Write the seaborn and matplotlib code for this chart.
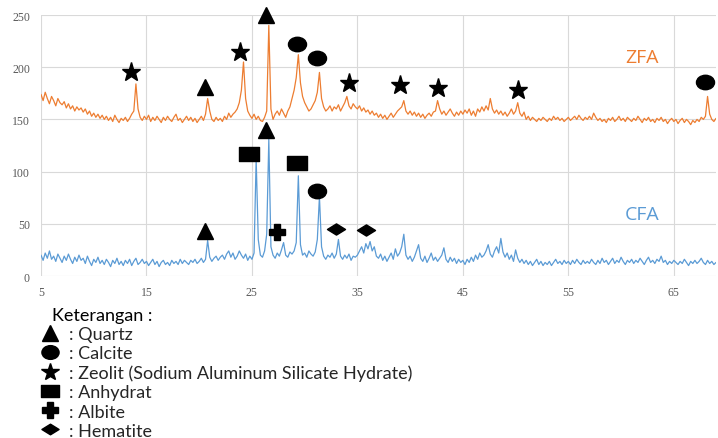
import numpy as np
import pandas as pd
import matplotlib
matplotlib.use("Agg")
import matplotlib.pyplot as plt
from matplotlib.path import Path
from matplotlib.transforms import Affine2D
from matplotlib.lines import Line2D
import seaborn as sns

# ---------------- data ----------------
two_theta_start = 5.0
two_theta_step = 0.2

zfa = [
    174, 168, 176, 170, 165, 172, 168, 163, 170, 166,   # 5.0
    164, 167, 161, 165, 160, 163, 158, 162, 159, 161,   # 7.0
    157, 160, 155, 158, 153, 156, 152, 155, 151, 154,   # 9.0
    150, 153, 149, 152, 148, 154, 150, 147, 151, 149,   # 11.0
    152, 148, 151, 155, 158, 184, 160, 152, 149, 153,   # 13.0
    150, 154, 148, 152, 149, 153, 150, 147, 152, 149,   # 15.0
    153, 150, 148, 152, 155, 149, 151, 147, 150, 153,   # 17.0
    149, 152, 148, 151, 147, 150, 153, 149, 155, 170,   # 19.0
    158, 150, 148, 152, 149, 151, 148, 153, 150, 156,   # 21.0
    152, 155, 157, 160, 166, 178, 205, 170, 158, 154,   # 23.0
    151, 155, 150, 153, 149, 148, 152, 158, 240, 160,   # 25.0
    150, 155, 158, 154, 160, 156, 152, 158, 162, 170,   # 27.0
    178, 190, 212, 185, 172, 166, 162, 158, 160, 164,   # 29.0
    168, 176, 195, 170, 162, 158, 160, 163, 158, 162,   # 31.0
    160, 164, 158, 162, 166, 172, 163, 160, 165, 162,   # 33.0
    160, 163, 158, 161, 157, 159, 155, 158, 154, 156,   # 35.0
    152, 155, 151, 154, 150, 153, 156, 152, 155, 158,   # 37.0
    160, 162, 168, 158, 155, 158, 154, 157, 153, 156,   # 39.0
    152, 155, 151, 154, 156, 153, 157, 158, 168, 160,   # 41.0
    155, 158, 154, 157, 160, 156, 153, 157, 154, 158,   # 43.0
    155, 159, 156, 160, 154, 158, 153, 160, 157, 162,   # 45.0
    158, 163, 159, 170, 160, 156, 159, 155, 158, 154,   # 47.0
    157, 153, 156, 160, 155, 158, 166, 156, 153, 157,   # 49.0
    150, 153, 149, 152, 150, 148, 151, 149, 152, 150,   # 51.0
    148, 151, 149, 153, 150, 152, 149, 151, 148, 150,   # 53.0
    152, 149, 151, 153, 150, 154, 151, 149, 152, 150,   # 55.0
    153, 150, 156, 152, 149, 151, 148, 150, 147, 151,   # 57.0
    149, 152, 148, 150, 153, 149, 151, 148, 152, 150,   # 59.0
    148, 151, 149, 153, 150, 147, 151, 149, 152, 148,   # 61.0
    150, 147, 151, 149, 152, 148, 150, 146, 149, 151,   # 63.0
    148, 150, 146, 149, 151, 147, 150, 148, 145, 149,   # 65.0
    147, 150, 148, 152, 150, 153, 172, 155, 150, 148,   # 67.0
    151,                                                # 69.0
]

cfa = [
    20, 15, 22, 17, 24, 16, 19, 14, 21, 17,   # 5.0
    13, 19, 15, 21, 16, 12, 18, 14, 20, 15,   # 7.0
    17, 12, 19, 14, 10, 16, 13, 18, 12, 15,   # 9.0
    11, 16, 13, 9, 15, 12, 17, 11, 14, 10,    # 11.0
    15, 12, 16, 10, 14, 17, 11, 13, 16, 12,   # 13.0
    14, 10, 13, 16, 11, 14, 9, 13, 15, 11,    # 15.0
    13, 10, 15, 12, 14, 11, 16, 12, 15, 13,   # 17.0
    11, 15, 13, 16, 12, 14, 17, 13, 16, 34,   # 19.0
    18, 14, 17, 19, 15, 18, 20, 16, 21, 24,   # 21.0
    18, 22, 16, 19, 24, 20, 17, 21, 15, 19,   # 23.0
    16, 22, 112, 35, 20, 18, 24, 40, 131, 28, # 25.0
    20, 17, 22, 19, 25, 32, 20, 18, 23, 21,   # 27.0
    24, 32, 96, 30, 20, 22, 18, 24, 21, 19,   # 29.0
    23, 35, 76, 28, 19, 16, 20, 18, 22, 17,   # 31.0
    21, 35, 19, 16, 20, 17, 21, 15, 19, 18,   # 33.0
    20, 24, 28, 22, 31, 26, 33, 24, 28, 19,   # 35.0
    17, 21, 15, 19, 14, 18, 22, 16, 26, 19,   # 37.0
    22, 28, 40, 20, 16, 19, 14, 18, 24, 30,   # 39.0
    17, 14, 19, 13, 17, 22, 15, 18, 14, 17,   # 41.0
    20, 27, 16, 13, 18, 14, 17, 12, 16, 13,   # 43.0
    15, 11, 16, 13, 18, 14, 20, 16, 22, 18,   # 45.0
    20, 24, 30, 21, 18, 24, 28, 22, 36, 23,   # 47.0
    18, 22, 16, 20, 14, 25, 17, 13, 16, 12,   # 49.0
    15, 11, 14, 10, 13, 16, 11, 14, 10, 13,   # 51.0
    11, 14, 10, 13, 16, 12, 14, 11, 15, 12,   # 53.0
    14, 11, 15, 12, 16, 13, 11, 15, 12, 14,   # 55.0
    12, 16, 13, 11, 15, 12, 17, 13, 15, 11,   # 57.0
    14, 17, 12, 15, 13, 18, 14, 11, 15, 13,   # 59.0
    16, 12, 15, 13, 17, 14, 11, 15, 18, 13,   # 61.0
    15, 12, 16, 14, 19, 13, 15, 11, 14, 12,   # 63.0
    15, 13, 11, 14, 12, 16, 13, 10, 14, 12,   # 65.0
    15, 12, 14, 17, 13, 11, 15, 12, 14, 11,   # 67.0
    13,                                       # 69.0
]

# phase markers (2-theta, intensity level of the symbol, phase)
zfa_mark_x = [13.5, 20.55, 23.85, 26.3, 29.25, 31.15, 34.2, 39.0, 42.6, 50.2, 68.0]
zfa_mark_y = [195, 181, 215, 250, 222, 209, 185, 183, 180, 178, 186]
zfa_mark_phase = ["Zeolit", "Quartz", "Zeolit", "Quartz", "Calcite", "Calcite",
                  "Zeolit", "Zeolit", "Zeolit", "Zeolit", "Calcite"]

cfa_mark_x = [20.55, 24.7, 26.3, 27.4, 29.25, 31.15, 33.0, 35.8]
cfa_mark_y = [43, 117, 140, 42, 108, 81, 45, 44]
cfa_mark_phase = ["Quartz", "Anhydrat", "Quartz", "Albite", "Anhydrat", "Calcite",
                  "Hematite", "Hematite"]

phases = ["Quartz", "Calcite", "Zeolit", "Anhydrat", "Albite", "Hematite"]
phase_labels = [": Quartz", ": Calcite", ": Zeolit (Sodium Aluminum Silicate Hydrate)",
                ": Anhydrat", ": Albite", ": Hematite"]
legend_title = "Keterangan :"

x_ticks = [5, 15, 25, 35, 45, 55, 65]
y_ticks = [0, 50, 100, 150, 200, 250]

# ---------------- styling ----------------
sns.set_theme(style="whitegrid")
plt.rcParams["font.family"] = ["DejaVu Sans"]

ORANGE = "#ED7D31"
BLUE = "#5B9BD5"

ellipse = Path.unit_circle().transformed(Affine2D().scale(1.25, 1.0))
diamond = Path([(-1, 0), (0, 0.62), (1, 0), (0, -0.62), (-1, 0)],
               [Path.MOVETO, Path.LINETO, Path.LINETO, Path.LINETO, Path.CLOSEPOLY])
rsquare = Path.unit_rectangle().transformed(Affine2D().translate(-0.5, -0.5).scale(1.45, 1.0))
marker_style = {
    "Quartz": dict(marker="^", ms=12),
    "Calcite": dict(marker=ellipse, ms=13),
    "Zeolit": dict(marker="*", ms=14),
    "Anhydrat": dict(marker=rsquare, ms=14),
    "Albite": dict(marker="P", ms=11.5),
    "Hematite": dict(marker=diamond, ms=13),
}

n = len(zfa)
two_theta = np.round(two_theta_start + two_theta_step * np.arange(n), 2)
df = pd.DataFrame({
    "2theta": np.concatenate([two_theta, two_theta]),
    "intensity": zfa + cfa,
    "sample": ["ZFA"] * n + ["CFA"] * n,
})

fig = plt.figure(figsize=(7.18, 4.39), dpi=100)
ax = fig.add_axes([41 / 718, 1 - 277 / 439, 675 / 718, 261 / 439])

sns.lineplot(data=df, x="2theta", y="intensity", hue="sample",
             palette={"ZFA": ORANGE, "CFA": BLUE}, linewidth=0.9,
             legend=False, ax=ax, estimator=None, sort=False)

ax.set_xlim(5, 69)
ax.set_ylim(0, 250)
ax.set_xticks(x_ticks)
ax.set_yticks(y_ticks)
ax.set_xlabel("")
ax.set_ylabel("")
for s in ax.spines.values():
    s.set_visible(False)
ax.grid(True, color="#d9d9d9", linewidth=0.8)
ax.tick_params(axis="both", length=0, labelsize=8.5, colors="#595959")
ax.tick_params(axis="x", pad=7)
ax.tick_params(axis="y", pad=8)
for lab in ax.get_xticklabels() + ax.get_yticklabels():
    lab.set_fontfamily("Liberation Serif")

# phase symbols
for xs, ys, ps in [(zfa_mark_x, zfa_mark_y, zfa_mark_phase),
                   (cfa_mark_x, cfa_mark_y, cfa_mark_phase)]:
    for xv, yv, pv in zip(xs, ys, ps):
        st = marker_style[pv]
        ax.plot([xv], [yv], linestyle="none", marker=st["marker"], markersize=st["ms"],
                color="black", clip_on=False, zorder=5)

ax.text(62.0, 210, "ZFA", color=ORANGE, fontsize=14, ha="center", va="center",
        fontfamily="Open Sans")
ax.text(62.0, 59, "CFA", color=BLUE, fontsize=14, ha="center", va="center",
        fontfamily="Open Sans")

# legend (Keterangan)
fig.text(52 / 718, 1 - 316 / 439, legend_title, fontfamily="Lato", fontsize=13,
         ha="left", va="center", color="black")
handles = [Line2D([], [], linestyle="none", color="black",
                  marker=marker_style[p]["marker"], markersize=marker_style[p]["ms"] * 0.95)
           for p in phases]
leg = fig.legend(handles, phase_labels, loc="upper left",
                 bbox_to_anchor=(42 / 718, 1 - 327 / 439), frameon=False,
                 prop={"family": "Lato", "size": 13},
                 labelspacing=0.18, handlelength=0.9, handletextpad=0.62,
                 borderpad=0.0, borderaxespad=0.0, alignment="left")

fig.savefig("out.png", dpi=100)
